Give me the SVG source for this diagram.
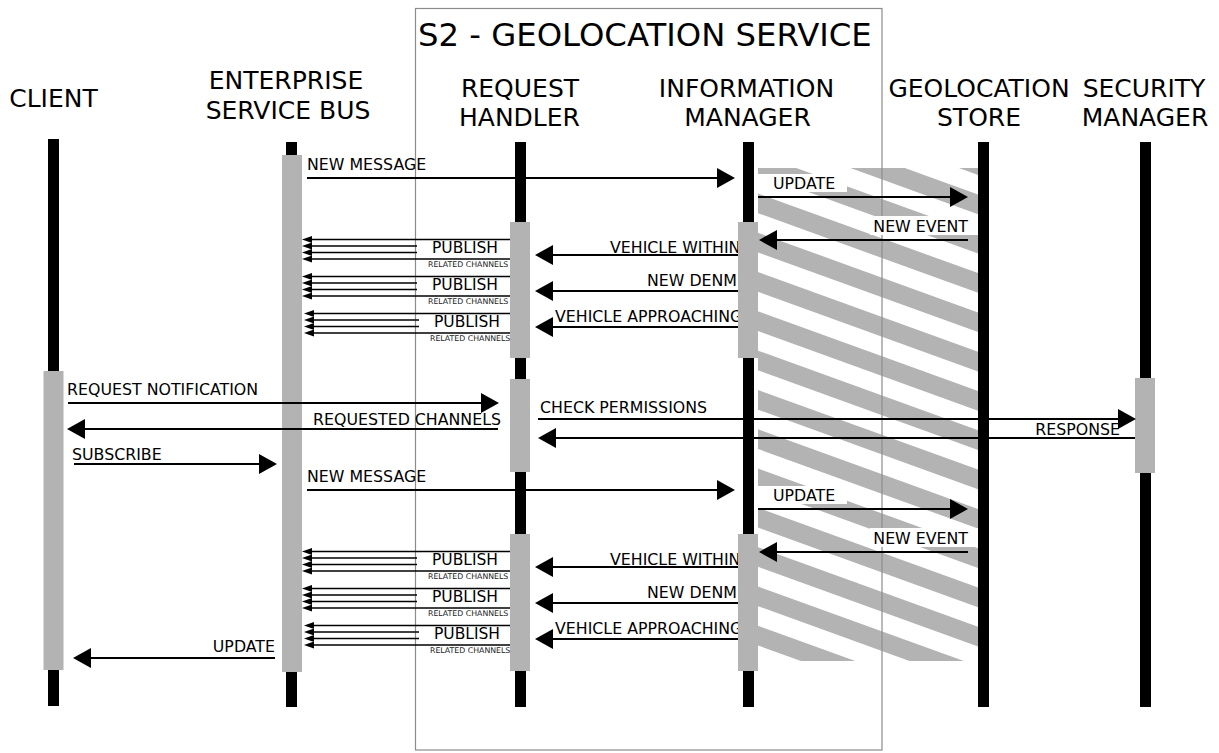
<svg xmlns="http://www.w3.org/2000/svg" width="1219" height="753" viewBox="0 0 1219 753">
<style>
text { font-family: "DejaVu Sans", Verdana, sans-serif; fill: #000; }
.hdr { font-size: 25px; text-anchor: middle; }
.ttl { font-size: 32.3px; }
.lbl { font-size: 15.8px; }
.pubt { font-size: 15.5px; }
.end { text-anchor: end; }
.tiny { font-size: 7.8px; fill: #222; }
.life { fill: #000; }
.act { fill: #b3b3b3; }
.msg { stroke: #000; stroke-width: 2.2; fill: none; marker-end: url(#ah); }
.pub { stroke: #000; stroke-width: 1.4; fill: none; marker-end: url(#ahs); }
.box { fill: #fff; }
.hatch { stroke: #b3b3b3; stroke-width: 18.5; fill: none; }
.frame { fill: none; stroke: #8c8c8c; stroke-width: 1.2; }
</style>
<defs>
  <marker id="ah" markerUnits="userSpaceOnUse" viewBox="0 0 18 20" markerWidth="18" markerHeight="20" refX="8" refY="10" orient="auto">
    <path d="M0,0 L18,10 L0,20 Z" fill="#000"/>
  </marker>
  <marker id="ahs" markerUnits="userSpaceOnUse" viewBox="0 0 10 7" markerWidth="10" markerHeight="7" refX="5" refY="3.5" orient="auto">
    <path d="M0,0 L10,3.5 L0,7 Z" fill="#000"/>
  </marker>
  <clipPath id="hatch-area"><rect x="758" y="168" width="220" height="493"/></clipPath>
  <clipPath id="left-of-im"><rect x="0" y="0" width="738" height="753"/></clipPath>
</defs>

<rect width="1219" height="753" fill="#fff"/>

<!-- diagonal hatching between information manager and geolocation store -->
<g id="hatching" clip-path="url(#hatch-area)">
  <path class="hatch" d="M750,82.5 L990,169.4 M750,121.8 L990,208.7 M750,161.1 L990,248 M750,200.4 L990,287.3 M750,239.7 L990,326.6 M750,279 L990,365.9 M750,318.3 L990,405.2 M750,357.6 L990,444.5 M750,396.9 L990,483.8 M750,436.2 L990,523.1 M750,475.5 L990,562.4 M750,514.8 L990,601.7 M750,554.1 L990,641 M750,593.4 L990,680.3 M750,632.7 L990,719.6"/>
</g>

<!-- S2 service boundary -->
<g id="s2-geolocation-service">
  <rect class="frame" x="415.5" y="8.5" width="466.5" height="741.5"/>
  <text class="ttl" x="418" y="46">S2 - GEOLOCATION SERVICE</text>
</g>

<!-- participants -->
<g id="client">
  <text class="hdr" x="53.5" y="107">CLIENT</text>
  <rect class="life" x="48" y="139" width="11" height="567"/>
  <rect class="act" x="43.5" y="371" width="20" height="299"/>
</g>
<g id="enterprise-service-bus">
  <text class="hdr" x="286" y="89">ENTERPRISE</text>
  <text class="hdr" x="288" y="119">SERVICE BUS</text>
  <rect class="life" x="286" y="142" width="11" height="565"/>
  <rect class="act" x="282" y="155" width="20" height="517"/>
</g>
<g id="request-handler">
  <text class="hdr" x="520" y="97">REQUEST</text>
  <text class="hdr" x="519.5" y="126">HANDLER</text>
  <rect class="life" x="515" y="142" width="11" height="565"/>
  <rect class="act" x="510" y="222" width="20" height="136"/>
  <rect class="act" x="510" y="379" width="20" height="93"/>
  <rect class="act" x="510" y="534" width="20" height="137"/>
</g>
<g id="information-manager">
  <text class="hdr" x="746.5" y="97">INFORMATION</text>
  <text class="hdr" x="747.5" y="126">MANAGER</text>
  <rect class="life" x="743" y="142" width="11" height="565"/>
  <rect class="act" x="738" y="222" width="20" height="136"/>
  <rect class="act" x="738" y="534" width="20" height="137"/>
</g>
<g id="geolocation-store">
  <text class="hdr" x="979" y="97">GEOLOCATION</text>
  <text class="hdr" x="979" y="126">STORE</text>
  <rect class="life" x="978" y="142" width="11" height="565"/>
</g>
<g id="security-manager">
  <text class="hdr" x="1144" y="97">SECURITY</text>
  <text class="hdr" x="1145" y="126">MANAGER</text>
  <rect class="life" x="1140" y="142" width="11" height="565"/>
  <rect class="act" x="1135" y="378" width="20" height="95"/>
</g>

<!-- messages -->
<g id="connectors">
  <!-- first round -->
  <line class="msg" x1="307" y1="178" x2="725" y2="178"/>
  <text class="lbl" x="307" y="170">NEW MESSAGE</text>

  <rect class="box" x="758" y="174" width="89" height="18"/>
  <text class="lbl" x="773" y="189">UPDATE</text>
  <line class="msg" x1="758" y1="197" x2="958" y2="197"/>

  <rect class="box" x="870" y="216" width="108" height="19"/>
  <text class="lbl end" x="968" y="232">NEW EVENT</text>
  <line class="msg" x1="968" y1="240" x2="769" y2="240"/>

  <g clip-path="url(#left-of-im)">
    <text class="lbl" x="610" y="252.5">VEHICLE WITHIN</text>
    <text class="lbl" x="555" y="322">VEHICLE APPROACHING</text>
    <text class="lbl" x="610" y="564.5">VEHICLE WITHIN</text>
    <text class="lbl" x="555" y="634">VEHICLE APPROACHING</text>
  </g>
  <line class="msg" x1="738" y1="255" x2="545" y2="255"/>
  <text class="lbl end" x="737" y="285.5">NEW DENM</text>
  <line class="msg" x1="738" y1="291" x2="545" y2="291"/>
  <line class="msg" x1="738" y1="327" x2="545" y2="327"/>

  <!-- publish fan-out, first round -->
  <line class="pub" x1="510" y1="239.5" x2="307" y2="239.5"/>
  <line class="pub" x1="510" y1="246" x2="307" y2="246"/>
  <line class="pub" x1="510" y1="252.5" x2="307" y2="252.5"/>
  <line class="pub" x1="510" y1="259" x2="307" y2="259"/>
  <rect class="box" x="417" y="241.5" width="93" height="15.5"/>
  <text class="pubt" x="432" y="253">PUBLISH</text>
  <text class="tiny" x="428" y="267">RELATED CHANNELS</text>

  <line class="pub" x1="510" y1="276.5" x2="307" y2="276.5"/>
  <line class="pub" x1="510" y1="283" x2="307" y2="283"/>
  <line class="pub" x1="510" y1="289.5" x2="307" y2="289.5"/>
  <line class="pub" x1="510" y1="296" x2="307" y2="296"/>
  <rect class="box" x="417" y="278.5" width="93" height="15.5"/>
  <text class="pubt" x="432" y="290">PUBLISH</text>
  <text class="tiny" x="428" y="304">RELATED CHANNELS</text>

  <line class="pub" x1="510" y1="313.5" x2="309" y2="313.5"/>
  <line class="pub" x1="510" y1="320" x2="309" y2="320"/>
  <line class="pub" x1="510" y1="326.5" x2="309" y2="326.5"/>
  <line class="pub" x1="510" y1="333" x2="309" y2="333"/>
  <rect class="box" x="419" y="315.5" width="91" height="15.5"/>
  <text class="pubt" x="434" y="327">PUBLISH</text>
  <text class="tiny" x="430" y="341">RELATED CHANNELS</text>

  <!-- subscription handshake -->
  <text class="lbl" x="67" y="394.5">REQUEST NOTIFICATION</text>
  <line class="msg" x1="68" y1="403" x2="489" y2="403"/>
  <text class="lbl end" x="501" y="425">REQUESTED CHANNELS</text>
  <line class="msg" x1="498" y1="429" x2="77" y2="429"/>
  <text class="lbl" x="540" y="413">CHECK PERMISSIONS</text>
  <line class="msg" x1="538" y1="419" x2="1126" y2="419"/>
  <text class="lbl end" x="1120" y="435">RESPONSE</text>
  <line class="msg" x1="1135" y1="438" x2="548" y2="438"/>
  <text class="lbl" x="72" y="460">SUBSCRIBE</text>
  <line class="msg" x1="74" y1="464" x2="267" y2="464"/>

  <!-- second round -->
  <text class="lbl" x="307" y="482">NEW MESSAGE</text>
  <line class="msg" x1="307" y1="490" x2="725" y2="490"/>

  <rect class="box" x="758" y="486" width="89" height="18"/>
  <text class="lbl" x="773" y="501">UPDATE</text>
  <line class="msg" x1="758" y1="509" x2="958" y2="509"/>

  <rect class="box" x="870" y="528" width="108" height="19"/>
  <text class="lbl end" x="968" y="544">NEW EVENT</text>
  <line class="msg" x1="968" y1="552" x2="769" y2="552"/>

  <line class="msg" x1="738" y1="567" x2="545" y2="567"/>
  <text class="lbl end" x="737" y="597.5">NEW DENM</text>
  <line class="msg" x1="738" y1="603" x2="545" y2="603"/>
  <line class="msg" x1="738" y1="639" x2="545" y2="639"/>

  <!-- publish fan-out, second round -->
  <line class="pub" x1="510" y1="551.5" x2="307" y2="551.5"/>
  <line class="pub" x1="510" y1="558" x2="307" y2="558"/>
  <line class="pub" x1="510" y1="564.5" x2="307" y2="564.5"/>
  <line class="pub" x1="510" y1="571" x2="307" y2="571"/>
  <rect class="box" x="417" y="553.5" width="93" height="15.5"/>
  <text class="pubt" x="432" y="565">PUBLISH</text>
  <text class="tiny" x="428" y="579">RELATED CHANNELS</text>

  <line class="pub" x1="510" y1="588.5" x2="307" y2="588.5"/>
  <line class="pub" x1="510" y1="595" x2="307" y2="595"/>
  <line class="pub" x1="510" y1="601.5" x2="307" y2="601.5"/>
  <line class="pub" x1="510" y1="608" x2="307" y2="608"/>
  <rect class="box" x="417" y="590.5" width="93" height="15.5"/>
  <text class="pubt" x="432" y="602">PUBLISH</text>
  <text class="tiny" x="428" y="616">RELATED CHANNELS</text>

  <line class="pub" x1="510" y1="625.5" x2="309" y2="625.5"/>
  <line class="pub" x1="510" y1="632" x2="309" y2="632"/>
  <line class="pub" x1="510" y1="638.5" x2="309" y2="638.5"/>
  <line class="pub" x1="510" y1="645" x2="309" y2="645"/>
  <rect class="box" x="419" y="627.5" width="91" height="15.5"/>
  <text class="pubt" x="434" y="639">PUBLISH</text>
  <text class="tiny" x="430" y="653">RELATED CHANNELS</text>

  <text class="lbl end" x="275" y="652">UPDATE</text>
  <line class="msg" x1="275" y1="658" x2="83" y2="658"/>
</g>
</svg>
